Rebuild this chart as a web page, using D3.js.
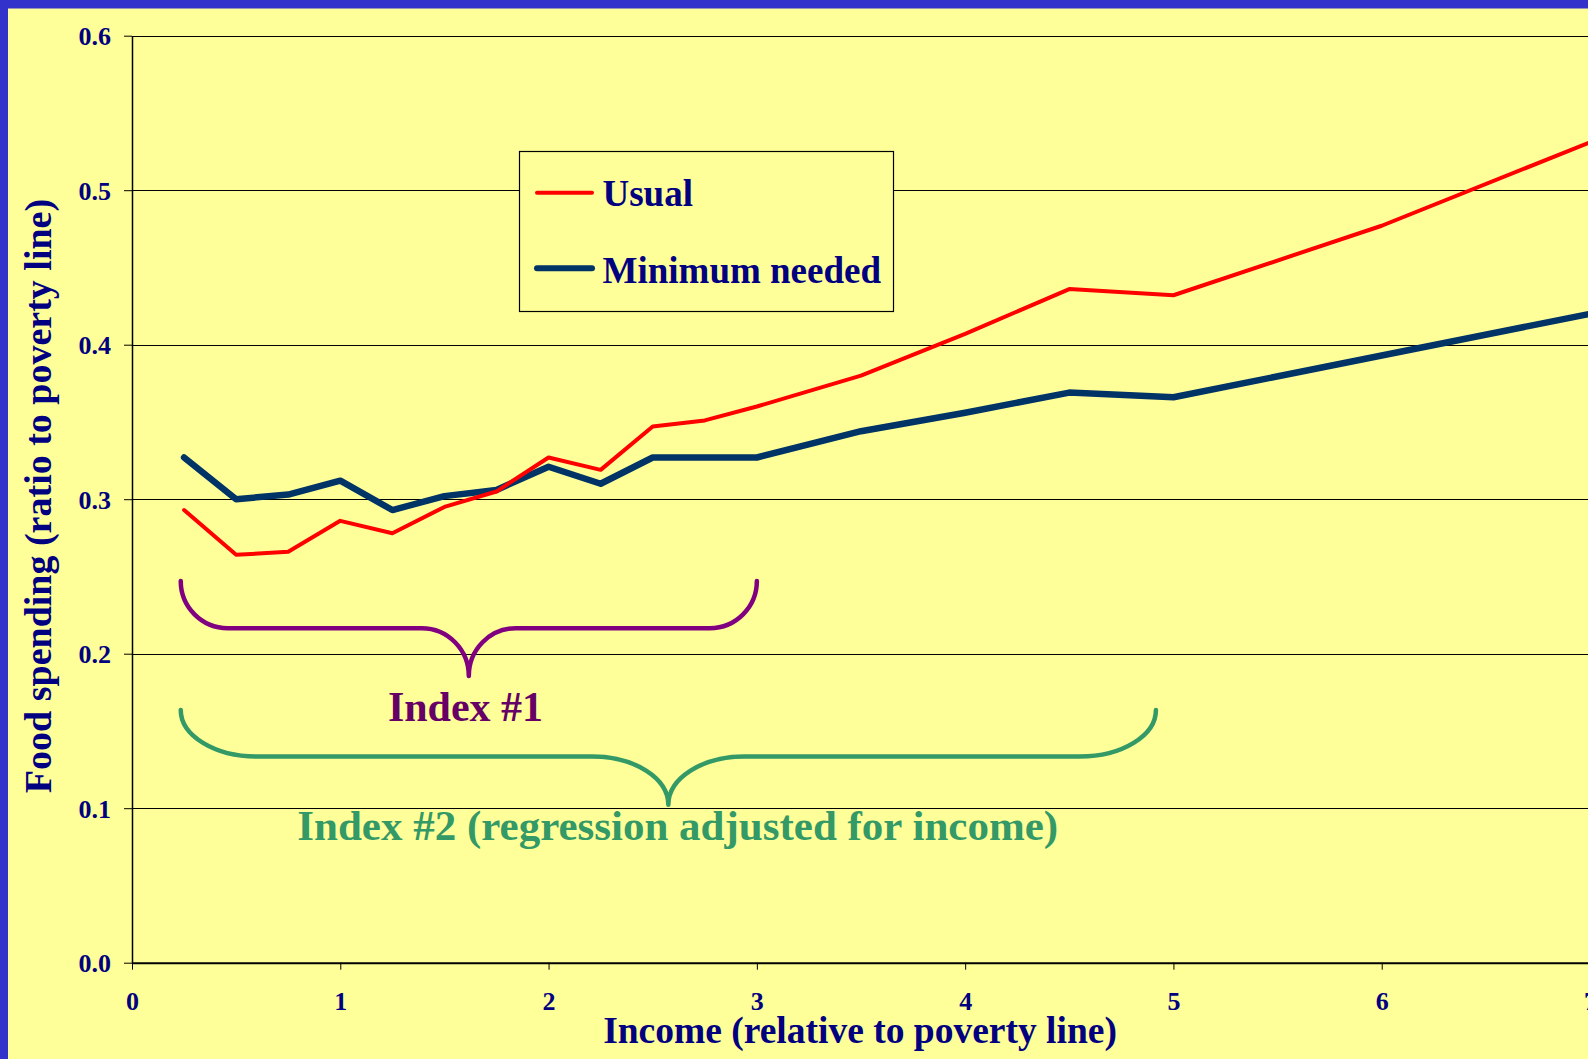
<!DOCTYPE html>
<html>
<head>
<meta charset="utf-8">
<script src="https://cdn.jsdelivr.net/npm/d3@7"></script>
<style>
  html, body { margin: 0; padding: 0; background: #FFFF99; overflow: hidden; }
  svg { display: block; }
  text { font-family: "Liberation Serif", "Times New Roman", serif; font-weight: bold; }
</style>
</head>
<body>
<script>
// ---- data ----
const income = [0.25, 0.5, 0.75, 1, 1.25, 1.5, 1.75, 2, 2.25, 2.5, 2.75, 3, 3.5, 4, 4.5, 5, 6, 7];
const usual = [0.293, 0.264, 0.266, 0.286, 0.278, 0.295, 0.305, 0.327, 0.319, 0.347, 0.351, 0.360, 0.380, 0.407, 0.436, 0.432, 0.477, 0.531];
const minimumNeeded = [0.327, 0.300, 0.303, 0.312, 0.293, 0.302, 0.306, 0.321, 0.310, 0.327, 0.327, 0.327, 0.344, 0.356, 0.369, 0.366, 0.393, 0.420];
const xTicks = [0, 1, 2, 3, 4, 5, 6, 7];
const yTicks = [0.0, 0.1, 0.2, 0.3, 0.4, 0.5, 0.6];
const seriesNames = ["Usual", "Minimum needed"];
// brace annotations: [x start, x end, y top, y bar, y tip] in data units
const brace1 = [0.234, 3.0, 0.247, 0.2165, 0.1855];
const brace2 = [0.234, 4.916, 0.1636, 0.1335, 0.1022];
const braceLabels = ["Index #1", "Index #2 (regression adjusted for income)"];

const W = 1588, H = 1059;
const svg = d3.select("body").append("svg").attr("width", W).attr("height", H);

// background and slide border
svg.append("rect").attr("x", 0).attr("y", 0).attr("width", W).attr("height", H).attr("fill", "#FFFF99");
svg.append("rect").attr("x", 0).attr("y", 0).attr("width", W).attr("height", 8.5).attr("fill", "#3333CC");
svg.append("rect").attr("x", 0).attr("y", 0).attr("width", 8).attr("height", H).attr("fill", "#3333CC");

const x = d3.scaleLinear().domain([0, 7]).range([132, 1590]);
const y = d3.scaleLinear().domain([0, 0.6]).range([962.7, 35.7]);

const navy = "#000080";

// gridlines
svg.append("g").selectAll("line").data(yTicks.filter(d => d > 0)).join("line")
  .attr("x1", x(0)).attr("x2", x(7))
  .attr("y1", d => Math.round(y(d)) + 0.5).attr("y2", d => Math.round(y(d)) + 0.5)
  .attr("stroke", "#000").attr("stroke-width", 1);

// y axis
const yAxis = d3.axisLeft(y).tickValues(yTicks).tickFormat(d3.format(".1f")).tickSizeOuter(0).tickSizeInner(8).tickPadding(13);
const gy = svg.append("g").attr("transform", `translate(${x(0)},0)`).call(yAxis);
gy.select(".domain").attr("stroke", "#000").attr("stroke-width", 1.5);
gy.selectAll(".tick line").attr("stroke", "#000");
gy.selectAll(".tick text").attr("fill", navy).style("font-size", "26px").attr("dy", "0.34em");

// x axis
const xAxis = d3.axisBottom(x).tickValues(xTicks).tickFormat(d3.format("d")).tickSizeOuter(0).tickSizeInner(7).tickPadding(12);
const gx = svg.append("g").attr("transform", `translate(0,${y(0)})`).call(xAxis);
gx.select(".domain").attr("stroke", "#000").attr("stroke-width", 2);
gx.selectAll(".tick line").attr("stroke", "#000");
gx.selectAll(".tick text").attr("fill", navy).style("font-size", "26px").attr("y", 47.5).attr("dy", 0);

// axis titles
svg.append("text").attr("x", 860).attr("y", 1043).attr("text-anchor", "middle")
  .attr("fill", navy).style("font-size", "37.5px").text("Income (relative to poverty line)");
svg.append("text").attr("transform", "translate(51,496) rotate(-90)").attr("text-anchor", "middle")
  .attr("fill", navy).style("font-size", "38px").text("Food spending (ratio to poverty line)");

// lines
const line = d3.line().x((d, i) => x(income[i])).y(d => y(d));
svg.append("path").datum(minimumNeeded).attr("d", line).attr("fill", "none")
  .attr("stroke", "#003366").attr("stroke-width", 6.5).attr("stroke-linejoin", "round").attr("stroke-linecap", "round");
svg.append("path").datum(usual).attr("d", line).attr("fill", "none")
  .attr("stroke", "#FF0000").attr("stroke-width", 4).attr("stroke-linejoin", "round").attr("stroke-linecap", "round");

// legend
const lg = svg.append("g");
lg.append("rect").attr("x", 519.5).attr("y", 151.5).attr("width", 374).attr("height", 160)
  .attr("fill", "#FFFF99").attr("stroke", "#000").attr("stroke-width", 1.2);
const legendColors = ["#FF0000", "#003366"];
const legendWidths = [4, 6];
const legendY = [192.7, 268.3];
const legendBase = [205.7, 283.3];
seriesNames.forEach((name, i) => {
  lg.append("line").attr("x1", 537).attr("x2", 592).attr("y1", legendY[i]).attr("y2", legendY[i])
    .attr("stroke", legendColors[i]).attr("stroke-width", legendWidths[i]).attr("stroke-linecap", "round");
  lg.append("text").attr("x", 602.5).attr("y", legendBase[i]).attr("fill", navy)
    .style("font-size", "37px").text(name);
});

// braces
function braceD(b, rx) {
  const x0 = x(b[0]), x1 = x(b[1]), yt = y(b[2]), yb = y(b[3]), yp = y(b[4]);
  const xm = (x0 + x1) / 2;
  const ry1 = yb - yt, ry2 = yp - yb;
  return `M${x0},${yt} A${rx},${ry1} 0 0 0 ${x0 + rx},${yb} L${xm - rx},${yb} A${rx},${ry2} 0 0 1 ${xm},${yp}` +
         ` A${rx},${ry2} 0 0 1 ${xm + rx},${yb} L${x1 - rx},${yb} A${rx},${ry1} 0 0 0 ${x1},${yt}`;
}
svg.append("path").attr("d", braceD(brace1, 47)).attr("fill", "none")
  .attr("stroke", "#800080").attr("stroke-width", 4.5).attr("stroke-linecap", "round").attr("stroke-linejoin", "round");
svg.append("path").attr("d", braceD(brace2, 76)).attr("fill", "none")
  .attr("stroke", "#339966").attr("stroke-width", 4.5).attr("stroke-linecap", "round").attr("stroke-linejoin", "round");

svg.append("text").attr("x", 465.5).attr("y", 720.7).attr("text-anchor", "middle")
  .attr("fill", "#660066").style("font-size", "42px").text(braceLabels[0]);
svg.append("text").attr("x", 677.7).attr("y", 840).attr("text-anchor", "middle")
  .attr("fill", "#339966").style("font-size", "43px").text(braceLabels[1]);
</script>
</body>
</html>
